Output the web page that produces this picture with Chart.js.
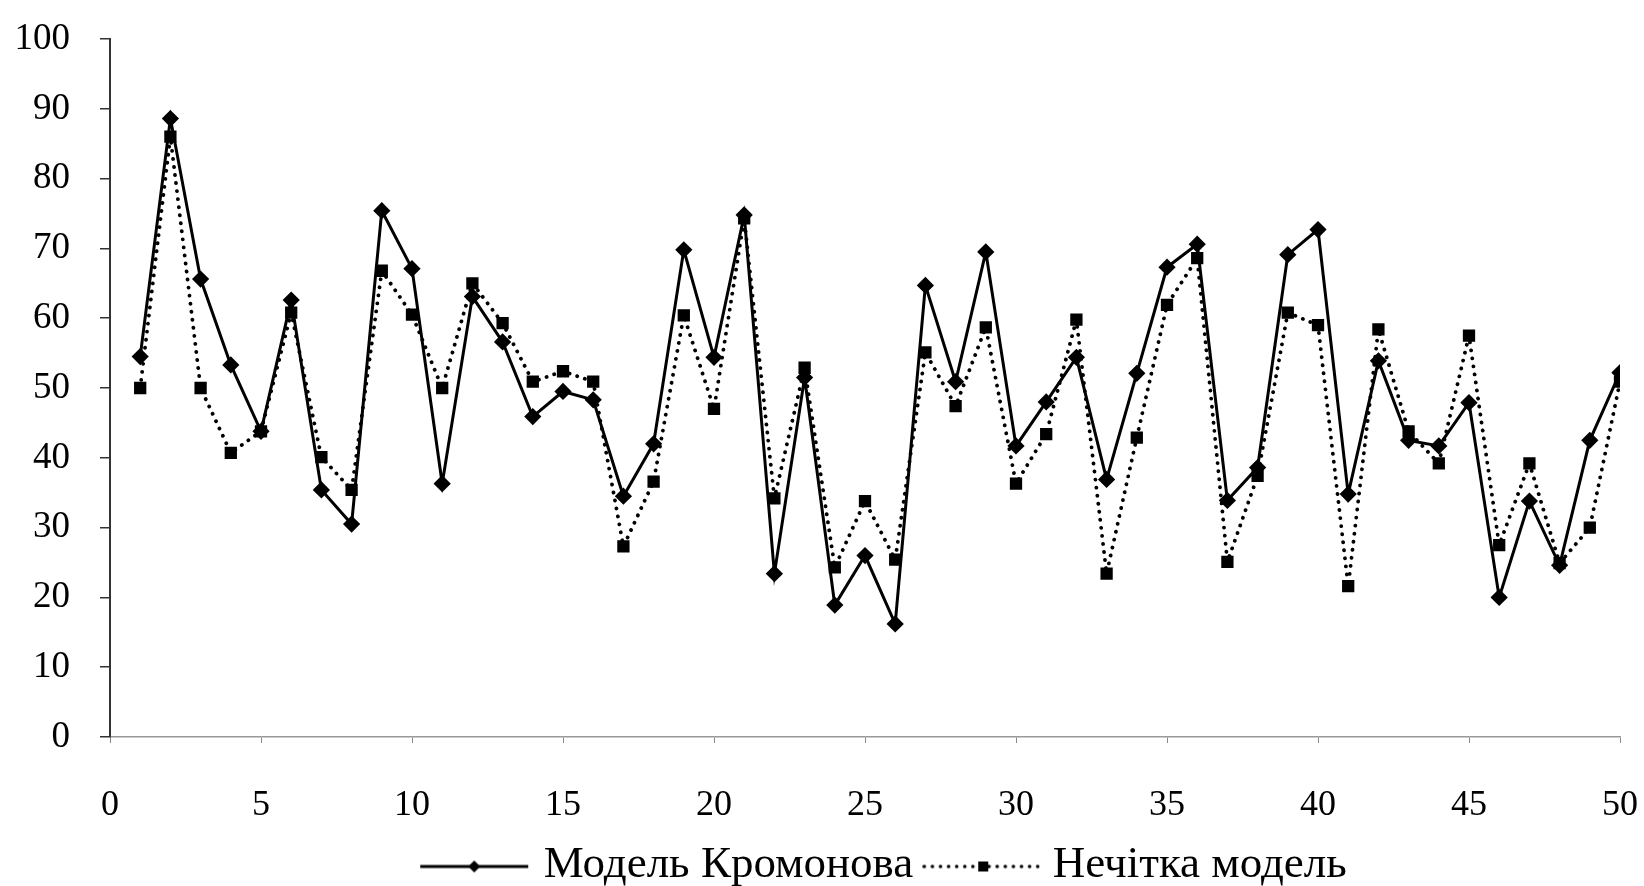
<!DOCTYPE html>
<html>
<head>
<meta charset="utf-8">
<script src="https://cdn.jsdelivr.net/npm/chart.js@4/dist/chart.umd.min.js"></script>
<style>
  html, body { margin: 0; padding: 0; background: #fff; }
  #wrap { width: 1644px; height: 886px; }
</style>
</head>
<body>
<div id="wrap"><canvas id="chart"></canvas></div>
<script>
// ── Дані ──────────────────────────────────────────────────────────────
const steps = [1,2,3,4,5,6,7,8,9,10,11,12,13,14,15,16,17,18,19,20,21,22,23,24,25,
               26,27,28,29,30,31,32,33,34,35,36,37,38,39,40,41,42,43,44,45,46,47,48,49,50]

const kromonov = [54.5,88.6,65.6,53.3,43.8,62.6,35.4,30.5,75.4,67.1,
                  36.3,63.1,56.6,45.9,49.5,48.3,34.5,42.0,69.8,54.4,
                  74.8,23.4,51.5,18.9,26.0,16.2,64.7,50.9,69.5,41.7,
                  48.0,54.4,36.9,52.1,67.3,70.6,33.9,38.6,69.1,72.7,
                  34.8,53.9,42.5,41.7,47.9,20.0,33.8,24.6,42.5,52.2]

const fuzzy = [50.0,86.0,50.0,40.7,43.8,60.8,40.1,35.4,66.8,60.5,
               50.0,65.0,59.3,50.9,52.4,50.9,27.3,36.6,60.4,47.0,
               74.3,34.2,52.9,24.3,33.8,25.4,55.1,47.4,58.7,36.3,
               43.4,59.8,23.4,42.9,61.9,68.6,25.1,37.4,60.8,59.0,
               21.6,58.4,43.8,39.2,57.5,27.5,39.2,24.9,30.0,50.9]

const seriesNames = ["Модель Кромонова", "Нечітка модель"]
const yTicks = [0,10,20,30,40,50,60,70,80,90,100]
const xTicks = [0,5,10,15,20,25,30,35,40,45,50]

const ink = "#000"
const font = "'Liberation Serif', 'Times New Roman', serif"

// ── Значки легенди: лінія з маркером ────────────────────────────────
function legendIcon(dotted, square, w) {
  const c = document.createElement("canvas")
  c.width = w; c.height = 20
  const g = c.getContext("2d")
  g.strokeStyle = ink
  g.fillStyle = ink
  g.lineWidth = dotted ? 3.5 : 3
  if (dotted) { g.setLineDash([0.1, 8]); g.lineCap = "round" }
  g.beginPath(); g.moveTo(2, 11); g.lineTo(w - 2, 11); g.stroke()
  g.setLineDash([])
  const m = w / 2
  if (square) {
    g.fillRect(m - 5, 6, 10, 10)
  } else {
    g.beginPath()
    g.moveTo(m, 5); g.lineTo(m + 6, 11); g.lineTo(m, 17); g.lineTo(m - 6, 11)
    g.closePath(); g.fill()
  }
  return c
}

const icons = [legendIcon(false, false, 112), legendIcon(true, true, 122)]

// легенда у оригіналі трохи зміщена праворуч
const legendShift = {
  id: "legendShift",
  afterLayout(chart) {
    chart.legend.left += 22
    chart.legend.right += 22
  }
}

new Chart(document.getElementById("chart"), {
  type: "line",
  plugins: [legendShift],
  data: {
    datasets: [
      {
        label: seriesNames[0],
        data: steps.map((x, i) => ({ x, y: kromonov[i] })),
        borderColor: ink,
        backgroundColor: ink,
        borderWidth: 3,
        pointStyle: "rectRot",
        pointRadius: 6.5,
        tension: 0
      },
      {
        label: seriesNames[1],
        data: steps.map((x, i) => ({ x, y: fuzzy[i] })),
        borderColor: ink,
        backgroundColor: ink,
        borderWidth: 3.8,
        borderDash: [0.1, 8],
        borderCapStyle: "round",
        pointStyle: "rect",
        pointRadius: 6,
        tension: 0
      }
    ]
  },
  options: {
    responsive: true,
    maintainAspectRatio: false,
    animation: false,
    layout: { padding: { left: 12, right: 24, top: 39, bottom: -12 } },
    plugins: {
      tooltip: { enabled: false },
      legend: {
        position: "bottom",
        fullSize: false,
        labels: {
          color: ink,
          font: { family: font, size: 45 },
          usePointStyle: true,
          pointStyleWidth: 94,
          padding: 23,
          generateLabels: chart => chart.data.datasets.map((d, i) => ({
            text: d.label,
            datasetIndex: i,
            pointStyle: icons[i],
            fontColor: ink,
            strokeStyle: ink,
            fillStyle: ink,
            lineWidth: 0
          }))
        }
      }
    },
    scales: {
      x: {
        type: "linear",
        min: 0,
        max: 50,
        afterBuildTicks: s => { s.ticks = xTicks.map(v => ({ value: v })) },
        afterFit: s => { s.height = 83; s.paddingLeft = 0; s.paddingRight = 0 },
        border: { display: true, color: "#999", width: 1.5, dash: [10, 8] },
        grid: { drawOnChartArea: false, color: "#888", tickLength: 6 },
        ticks: {
          color: ink,
          padding: 41,
          maxRotation: 0,
          font: { family: font, size: 36 }
        }
      },
      y: {
        min: 0,
        max: 100,
        afterBuildTicks: s => { s.ticks = yTicks.map(v => ({ value: v })) },
        afterFit: s => { s.width = 98; s.paddingTop = 0; s.paddingBottom = 0 },
        border: { display: true, color: "#333", width: 2 },
        grid: { drawOnChartArea: false, color: "#333", tickLength: 10, lineWidth: 1.5 },
        ticks: {
          color: ink,
          padding: 30,
          font: { family: font, size: 37 }
        }
      }
    }
  }
})
</script>
</body>
</html>
